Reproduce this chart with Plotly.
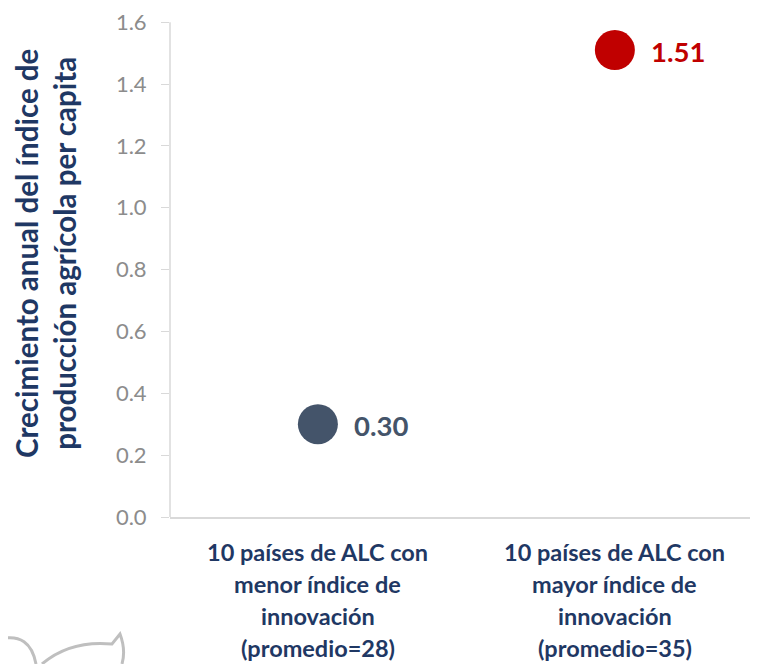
import plotly.graph_objects as go

categories = ["menor", "mayor"]
cat_lines = [
    ["10 países de ALC con", "menor índice de", "innovación", "(promedio=28)"],
    ["10 países de ALC con", "mayor índice de", "innovación", "(promedio=35)"],
]
values = [0.30, 1.51]
value_labels = ["0.30", "1.51"]
colors = ["#44546A", "#C00000"]
y_ticks = [0.0, 0.2, 0.4, 0.6, 0.8, 1.0, 1.2, 1.4, 1.6]
y_title = "Crecimiento anual del índice de<br>producción agrícola per capita"

# page body has an 8px margin; compensate so the figure lands where the reference is
OFF = 8
Y_MAX = 1.62
px_per_unit = 495 / 1.6
pw = 588
ph = round(Y_MAX * px_per_unit)
top_abs = 517 - ph
W, H = 758 - OFF, 664 - OFF
L, T = 170 - OFF, top_abs - OFF
B = H - T - ph

def ay(abs_y):
    return (517 - abs_y) / ph

def ax(abs_x):
    return (abs_x - 170) / pw

xpos = list(range(len(categories)))

fig = go.Figure()
fig.add_trace(go.Scatter(
    x=xpos, y=values, mode="markers",
    marker=dict(size=40, color=colors, line=dict(width=0)),
    cliponaxis=False, hoverinfo="skip", showlegend=False,
))

annotations = []
for i, (v, lab) in enumerate(zip(values, value_labels)):
    annotations.append(dict(
        x=xpos[i], y=v, xref="x", yref="y", text=lab, showarrow=False,
        xanchor="left", yanchor="middle", xshift=34, yshift=-1,
        font=dict(family="Lato", size=27.5, color=colors[i], weight="bold"),
    ))
for i, lines in enumerate(cat_lines):
    for j, line in enumerate(lines):
        annotations.append(dict(
            x=xpos[i], xref="x", y=0, yref="paper",
            yshift=-(35 + 32 * j), yanchor="middle", xanchor="center",
            text=line, showarrow=False,
            font=dict(family="Lato", size=23.5, color="#1F3864", weight="bold"),
        ))
annotations.append(dict(
    x=ax(45), xref="paper", y=ay(254), yref="paper",
    text=y_title, textangle=-90, showarrow=False,
    xanchor="center", yanchor="middle",
    font=dict(family="Lato", size=29.5, color="#1F3864", weight="bold"),
))

# decorative outline (watermark fragment)
def p(xa, ya):
    return ax(xa), ay(ya)

shape_path = "M {} {} Q {} {} {} {} M {} {} Q {} {} {} {} L {} {} Q {} {} {} {}".format(
    *p(0, 639), *p(30, 632), *p(36, 664),
    *p(42, 664), *p(70, 640), *p(112, 644),
    *p(120, 634), *p(126, 650), *p(122, 664),
)
shapes = [
    dict(type="path", xref="paper", yref="paper", path=shape_path,
         line=dict(color="#BFBFBF", width=3), layer="below"),
    # y-axis line stops at the top tick, as in the reference
    dict(type="line", xref="paper", yref="y", x0=0, x1=0, y0=0, y1=1.6,
         line=dict(color="#D9D9D9", width=1.5)),
]

fig.update_layout(
    width=W, height=H,
    margin=dict(l=L, r=0, t=T, b=B, pad=0),
    paper_bgcolor="white", plot_bgcolor="white",
    xaxis=dict(range=[-0.498, 1.482], showticklabels=False, showgrid=False,
               zeroline=False, showline=True, linecolor="#D9D9D9", linewidth=1.5,
               ticks=""),
    yaxis=dict(range=[0, Y_MAX], tickvals=y_ticks, tickformat=".1f",
               showgrid=False, zeroline=False, showline=False,
               ticks="outside", ticklen=8, tickcolor="#D9D9D9", tickwidth=1,
               ticklabelstandoff=10, ticklabeloverflow="allow",
               tickfont=dict(family="Lato", size=22, color="#8C8C8C")),
    annotations=annotations,
    shapes=shapes,
)

fig.write_html("out.html")
